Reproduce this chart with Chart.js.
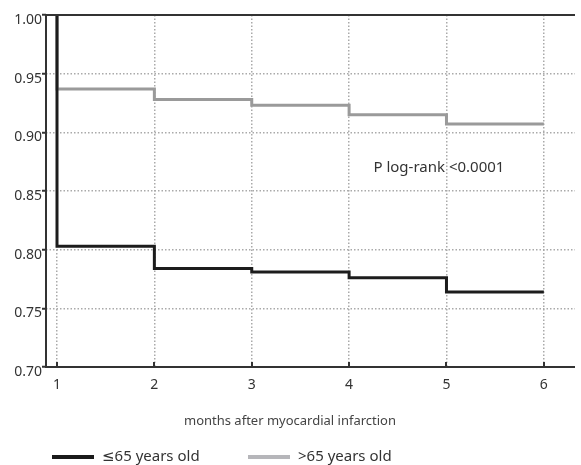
<!DOCTYPE html>
<html>
<head>
<meta charset="utf-8">
<script src="https://cdn.jsdelivr.net/npm/chart.js@4"></script>
<style>
  html, body { margin: 0; padding: 0; background: #fff; }
  #wrap { width: 581px; height: 465px; }
</style>
</head>
<body>
<div id="wrap"><canvas id="myChart" width="581" height="465"></canvas></div>
<script>
// data
const months = [1, 2, 3, 4, 5, 6];
const startValue = 1.0;
const youngSurvival = [0.803, 0.784, 0.781, 0.776, 0.764]; // <=65, month 1..5
const oldSurvival = [0.937, 0.928, 0.923, 0.915, 0.907];   // >65, month 1..5
const yTicks = [0.7, 0.75, 0.8, 0.85, 0.9, 0.95, 1.0];
const seriesLabels = ['\u226465 years old', '>65 years old'];
const xTitle = 'months after myocardial infarction';
const pText = 'P log-rank <0.0001';

const FONT = '"Noto Sans", "DejaVu Sans", sans-serif';

// step curve: starts at 1.0 at month 1, drops, holds until the last month
function stepPoints(values) {
  const pts = [{ x: months[0], y: startValue }];
  values.forEach((v, i) => pts.push({ x: months[i], y: v }));
  pts.push({ x: months[months.length - 1], y: values[values.length - 1] });
  return pts;
}

const extras = {
  id: 'extras',
  afterDraw(chart) {
    const ctx = chart.ctx;
    const xs = chart.scales.x;
    const ys = chart.scales.y;
    const area = chart.chartArea;
    ctx.save();
    // frame: left, bottom, top (solid)
    ctx.setLineDash([]);
    ctx.strokeStyle = '#333';
    ctx.lineWidth = 2;
    ctx.beginPath();
    ctx.moveTo(area.right, area.top);
    ctx.lineTo(area.left, area.top);
    ctx.lineTo(area.left, area.bottom);
    ctx.lineTo(area.right, area.bottom);
    ctx.stroke();
    // inner tick marks on x axis
    months.forEach((m) => {
      const px = Math.round(xs.getPixelForValue(m));
      ctx.beginPath();
      ctx.moveTo(px, area.bottom);
      ctx.lineTo(px, area.bottom - 5);
      ctx.stroke();
    });
    // p value annotation
    ctx.fillStyle = '#333';
    ctx.font = '15px ' + FONT;
    ctx.textAlign = 'left';
    ctx.textBaseline = 'middle';
    ctx.fillText(pText, xs.getPixelForValue(4.25), ys.getPixelForValue(0.87));
    // x axis title
    ctx.font = '13px ' + FONT;
    ctx.fillStyle = '#444';
    ctx.textAlign = 'center';
    ctx.fillText(xTitle, 290, 421);
    // legend
    const ds = chart.data.datasets;
    const legendX = [52, 248];
    ctx.font = '15px ' + FONT;
    ctx.textAlign = 'left';
    ds.forEach((d, i) => {
      ctx.strokeStyle = d.legendColor;
      ctx.lineWidth = 4;
      ctx.beginPath();
      ctx.moveTo(legendX[i], 457);
      ctx.lineTo(legendX[i] + 42, 457);
      ctx.stroke();
      ctx.fillStyle = '#333';
      ctx.fillText(d.label, legendX[i] + 50, 457);
    });
    ctx.restore();
  },
};

const data = {
  datasets: [
    {
      label: seriesLabels[0],
      data: stepPoints(youngSurvival),
      borderColor: '#1c1c1c',
      legendColor: '#1a1a1a',
      borderWidth: 3,
      stepped: 'before',
      pointRadius: 0,
      fill: false,
    },
    {
      label: seriesLabels[1],
      data: stepPoints(oldSurvival),
      borderColor: '#9a9a9a',
      legendColor: '#b6b6ba',
      borderWidth: 3,
      stepped: 'before',
      pointRadius: 0,
      fill: false,
    },
  ],
};

const config = {
  type: 'line',
  data: data,
  plugins: [extras],
  options: {
    responsive: false,
    animation: false,
    layout: { padding: { top: 15, right: 6, left: 0, bottom: 0 } },
    plugins: {
      legend: { display: false },
      tooltip: { enabled: false },
    },
    scales: {
      x: {
        type: 'linear',
        min: 0.887,
        max: 6.32,
        afterFit: (s) => { s.height = 98; },
        afterBuildTicks: (s) => { s.ticks = months.map((m) => ({ value: m })); },
        border: { display: false, dash: [1.5, 2] },
        grid: {
          color: '#aaaaaa',
          lineWidth: 1.5,
          drawTicks: false,
        },
        ticks: {
          color: '#333',
          font: { family: FONT, size: 14 },
          padding: 10,
          callback: (v) => String(v),
        },
      },
      y: {
        min: 0.7,
        max: 1.0,
        afterFit: (s) => { s.width = 46; },
        afterBuildTicks: (s) => { s.ticks = yTicks.map((v) => ({ value: v })); },
        border: { display: false, dash: [1.5, 2] },
        grid: {
          color: '#aaaaaa',
          lineWidth: 1.5,
          tickLength: 4,
          tickColor: '#333',
          tickWidth: 2,
          tickBorderDash: [],
        },
        ticks: {
          color: '#333',
          font: { family: FONT, size: 14 },
          padding: 0,
          labelOffset: 5,
          callback: (v) => Number(v).toFixed(2),
        },
      },
    },
  },
};

const myChart = new Chart(document.getElementById('myChart'), config);
</script>
</body>
</html>
